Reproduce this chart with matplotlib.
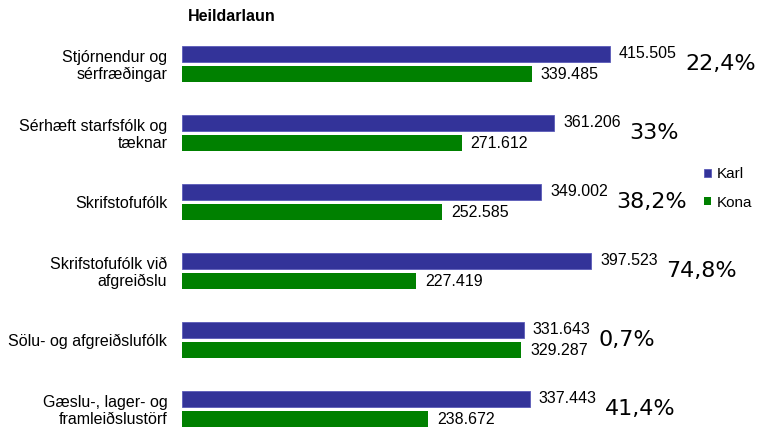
import matplotlib
matplotlib.use("Agg")
import matplotlib.pyplot as plt
import numpy as np

categories = ["Stjórnendur og\nsérfræðingar", "Sérhæft starfsfólk og\ntæknar",
              "Skrifstofufólk", "Skrifstofufólk við\nafgreiðslu",
              "Sölu- og afgreiðslufólk", "Gæslu-, lager- og\nframleiðslustörf"]
karl = [415.505, 361.206, 349.002, 397.523, 331.643, 337.443]
kona = [339.485, 271.612, 252.585, 227.419, 329.287, 238.672]
karl_labels = ["415.505", "361.206", "349.002", "397.523", "331.643", "337.443"]
kona_labels = ["339.485", "271.612", "252.585", "227.419", "329.287", "238.672"]
munur = ["22,4%", "33%", "38,2%", "74,8%", "0,7%", "41,4%"]

plt.rcParams['font.family'] = ['Liberation Sans', 'DejaVu Sans']

fig = plt.figure(figsize=(7.58, 4.30), dpi=100)
ax = fig.add_axes([0.240, 0.0007, 0.6795, 0.9307])

y = np.arange(len(categories))
h = 0.24
off = 0.145
ax.barh(y - off, karl, height=h, color="#333399", edgecolor="#5a5ab8", linewidth=0.6, label="Karl")
ax.barh(y + off, kona, height=h, color="#008000", label="Kona")

for i in range(len(categories)):
    ax.annotate(karl_labels[i], (karl[i], y[i] - off), xytext=(6.5, 0), textcoords="offset points",
                va="center", ha="left", fontsize=11.5)
    ax.annotate(kona_labels[i], (kona[i], y[i] + off), xytext=(6.5, 0), textcoords="offset points",
                va="center", ha="left", fontsize=11.5)
    ax.annotate(munur[i], (karl[i], y[i]), xytext=(54, 0), textcoords="offset points",
                va="center", ha="left", fontsize=16, family="DejaVu Sans")

ax.set_xlim(0, 500)
ax.set_ylim(5.3, -0.5)
ax.set_yticks(y)
ax.set_yticklabels(categories, fontsize=11.5, linespacing=1.1)
ax.tick_params(axis="y", length=0, pad=10.5)
ax.set_xticks([])
for s in ax.spines.values():
    s.set_visible(False)

ax.set_title("Heildarlaun", fontsize=11.5, fontweight="bold", loc="left", x=0.012, pad=6)

ax.legend(loc="center left", bbox_to_anchor=(0.987, 0.603), frameon=False, fontsize=11,
          handlelength=0.45, handleheight=0.45, handletextpad=0.4, labelspacing=0.95)

fig.savefig("out.png", dpi=100)
